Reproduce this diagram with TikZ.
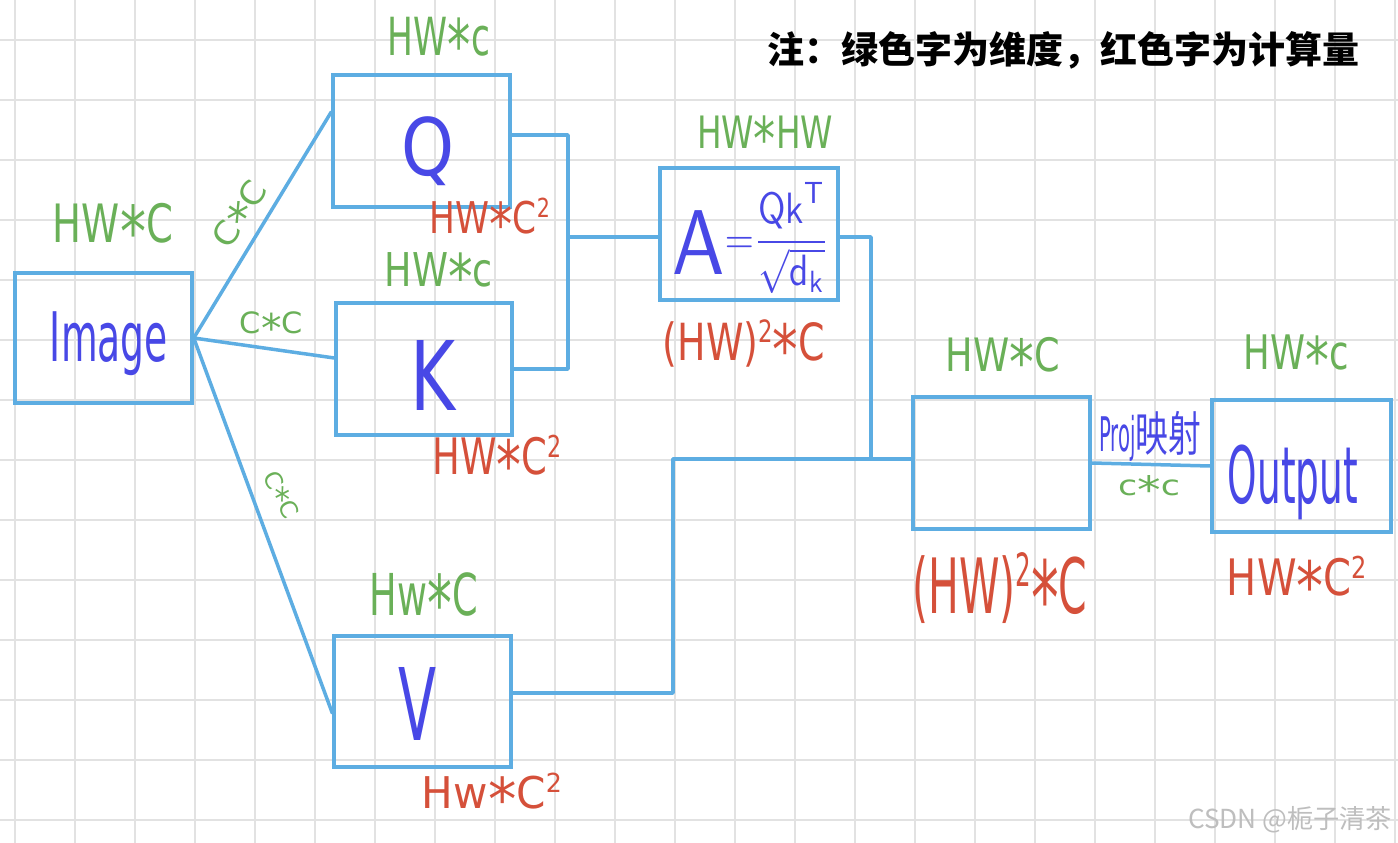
\documentclass[tikz,border=0pt]{standalone}
\usepackage{fontspec}
\usepackage{graphicx}
\newfontfamily\hand[FakeStretch=0.6]{DejaVu Sans}
\newfontfamily\cjk{Noto Sans CJK SC}
\definecolor{lineblue}{RGB}{93,173,226}
\definecolor{txtblue}{RGB}{72,72,230}
\definecolor{hgreen}{RGB}{106,176,88}
\definecolor{hred}{RGB}{213,80,58}
\definecolor{gridgray}{RGB}{226,226,226}
\definecolor{wmgray}{RGB}{190,190,190}
\newcommand\hstar{\raisebox{-0.28em}{\scalebox{1.35}{*}}}
\newcommand\hsq{\raisebox{0.35em}{\scalebox{0.6}{2}}}
\newcommand\hlab[3]{\resizebox*{#1pt}{#2pt}{\hand #3}}
\tikzset{
  gridline/.style={draw=gridgray, line width=1.5pt},
  box/.style={draw=lineblue, line width=3.5pt, rectangle, inner sep=0pt},
  conn/.style={draw=lineblue, line width=3.5pt, line cap=round, line join=round},
  dimlab/.style={text=hgreen, inner sep=0pt},
  costlab/.style={text=hred, inner sep=0pt},
  namelab/.style={text=txtblue, inner sep=0pt}
}
\begin{document}
\begin{tikzpicture}[x=1pt,y=-1pt]
\fill[white] (0,0) rectangle (1398,843);
\useasboundingbox (0,0) rectangle (1398,843);
% grid
\foreach \gx in {15,75,...,1395} \draw[gridline] (\gx,0) -- (\gx,843);
\foreach \gy in {40,100,...,820} \draw[gridline] (0,\gy) -- (1398,\gy);

% boxes
\node[box, minimum width=177pt, minimum height=130pt] (img) at (103.5,338) {};
\node[box, minimum width=177pt, minimum height=132pt] (Q) at (421.5,141) {};
\node[box, minimum width=176pt, minimum height=132pt] (K) at (424,369) {};
\node[box, minimum width=177pt, minimum height=131pt] (V) at (422.5,701.5) {};
\node[box, minimum width=178pt, minimum height=132pt] (A) at (749,234) {};
\node[box, minimum width=177pt, minimum height=132pt] (M) at (1001.5,463) {};
\node[box, minimum width=179pt, minimum height=132pt] (O) at (1301.5,466) {};

% box contents
\node[namelab] (timg) at (109,344) {\hlab{118}{64}{Image}};
\node[namelab] (tq) at (428,151.5) {\hlab{53}{69}{Q}};
\node[namelab] (tk) at (433,375) {\hlab{45}{70}{K}};
\node[namelab] (tv) at (418,703.5) {\hlab{38}{73}{V}};
\node[namelab] (to) at (1293,482) {\hlab{130}{75}{Output}};
\node[namelab] (ta) at (751,238) {\resizebox*{157pt}{112pt}{$\displaystyle\vcenter{\hbox{\scalebox{2.1}{$\mathsf{A}$}}}{=}\frac{\mathsf{Qk}^{\mathsf{T}}}{\sqrt{\mathsf{d}_{\mathsf{k}}}}$}};

% junction coordinates
\coordinate (jq) at (568,135);
\coordinate (jm) at (568,237);
\coordinate (jk) at (568,369);
\coordinate (ja) at (871,458);
\coordinate (jv) at (673,459);

% connectors
\draw[conn] (img.east) -- ([yshift=29pt]Q.west);
\draw[conn] (img.east) -- ([yshift=11pt]K.west);
\draw[conn] (img.east) -- ([yshift=-11.5pt]V.west);
\draw[conn] ([yshift=6pt]Q.east) -- (jq) -- (jk) -- (K.east);
\draw[conn] (jm) -- (jm -| A.west);
\draw[conn] ([yshift=-3pt]A.east) -| (ja);
\draw[conn] ([yshift=8.5pt]V.east) -| (jv) -- (jv -| M.west);
\draw[conn] (M.east) -- (O.west);

% edge labels
\node[dimlab, rotate=57] (e1) at (243,216) {\hlab{72}{33}{C\hstar C}};
\node[dimlab] (e2) at (271.5,327) {\hlab{63}{30}{C\hstar C}};
\node[dimlab, rotate=-63] (e3) at (279,496) {\hlab{50}{24}{C\hstar C}};
\node[namelab] (e4) at (1150,436) {\resizebox*{102pt}{50pt}{\hand Proj\cjk 映射}};
\node[dimlab] (e5) at (1149,489) {\hlab{62}{28}{c\hstar c}};

% dimension labels (green)
\node[dimlab] (d1) at (113,230) {\hlab{120}{54}{HW\hstar C}};
\node[dimlab] (d2) at (439,43.5) {\hlab{102}{53}{HW\hstar c}};
\node[dimlab] (d3) at (439,276) {\hlab{108}{47}{HW\hstar c}};
\node[dimlab] (d4) at (424,602) {\hlab{108}{59}{Hw\hstar C}};
\node[dimlab] (d5) at (765,138) {\hlab{136}{45}{HW\hstar HW}};
\node[dimlab] (d6) at (1003,361) {\hlab{114}{47}{HW\hstar C}};
\node[dimlab] (d7) at (1296,359) {\hlab{105}{48}{HW\hstar c}};

% cost labels (red)
\node[costlab] (c1) at (490,222) {\hlab{120}{47}{HW\hstar C\hsq}};
\node[costlab] (c2) at (497,462) {\hlab{129}{54}{HW\hstar C\hsq}};
\node[costlab] (c3) at (492,797) {\hlab{140}{47}{Hw\hstar C\hsq}};
\node[costlab] (c4) at (744,347) {\hlab{162}{55}{(HW)\hsq\hstar C}};
\node[costlab] (c5) at (1000,594) {\hlab{175}{82}{(HW)\hsq\hstar C}};
\node[costlab] (c6) at (1297,583) {\hlab{140}{54}{HW\hstar C\hsq}};

% note
\node[inner sep=0pt] (note) at (1063,50) {\cjk\bfseries\fontsize{37}{37}\selectfont 注：绿色字为维度，红色字为计算量};
% watermark
\node[inner sep=0pt, text=wmgray] (wm) at (1290,820) {\resizebox{204pt}{!}{\cjk CSDN @栀子清茶}};
\end{tikzpicture}
\end{document}
